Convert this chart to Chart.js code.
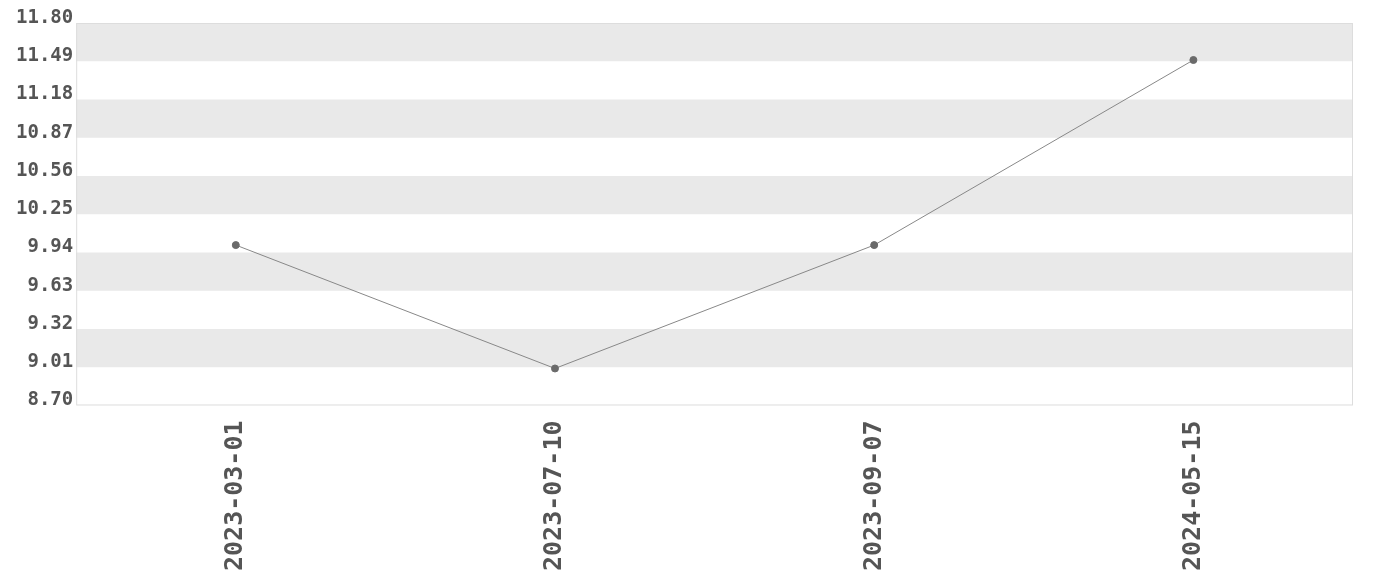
<!DOCTYPE html>
<html>
<head>
<meta charset="utf-8">
<script src="https://cdn.jsdelivr.net/npm/chart.js@4/dist/chart.umd.min.js"></script>
<style>
  body { margin: 0; background: #fff; }
</style>
</head>
<body>
<canvas id="grafica" width="1380" height="580"></canvas>
<script>
// datos
const fechas = ["2023-03-01", "2023-07-10", "2023-09-07", "2024-05-15"];
const valores = [10.0, 9.0, 10.0, 11.5];
const marcasY = [8.70, 9.01, 9.32, 9.63, 9.94, 10.25, 10.56, 10.87, 11.18, 11.49, 11.80];

// franjas grises entre marcas + borde del area
const franjas = {
  id: 'franjas',
  beforeDatasetsDraw(chart) {
    const ctx = chart.ctx;
    const a = chart.chartArea;
    const y = chart.scales.y;
    ctx.save();
    ctx.fillStyle = '#e9e9e9';
    for (let i = marcasY.length - 1; i > 0; i -= 2) {
      const y1 = y.getPixelForValue(marcasY[i]);
      const y2 = y.getPixelForValue(marcasY[i - 1]);
      ctx.fillRect(a.left, y1, a.right - a.left, y2 - y1);
    }
    ctx.strokeStyle = '#dddddd';
    ctx.lineWidth = 1;
    ctx.strokeRect(a.left + 0.5, a.top + 0.5, a.right - a.left - 1, a.bottom - a.top - 1);
    ctx.restore();
  }
};

new Chart(document.getElementById("grafica"), {
  type: 'line',
  data: {
    labels: fechas,
    datasets: [{
      data: valores,
      borderColor: "#888888",
      borderWidth: 1,
      pointBackgroundColor: "#6a6a6a",
      pointBorderColor: "#6a6a6a",
      pointRadius: 3.5,
      fill: false,
      tension: 0
    }]
  },
  plugins: [franjas],
  options: {
    responsive: false,
    animation: false,
    layout: {
      padding: { left: 13, right: 27, top: 23, bottom: -6 }
    },
    plugins: {
      legend: { display: false },
      title: { display: false },
      tooltip: { enabled: false }
    },
    scales: {
      x: {
        offset: true,
        grid: { display: false, drawTicks: false },
        border: { display: false },
        ticks: {
          minRotation: 90,
          maxRotation: 90,
          padding: 15,
          color: '#555555',
          font: { family: 'DejaVu Sans Mono', size: 25, weight: 'bold' }
        }
      },
      y: {
        min: 8.70,
        max: 11.80,
        grid: { display: false, drawTicks: false },
        border: { display: false },
        afterBuildTicks(scale) {
          scale.ticks = marcasY.map(v => ({ value: v }));
        },
        ticks: {
          padding: 3,
          labelOffset: -5,
          color: '#555555',
          font: { family: 'DejaVu Sans Mono', size: 19, weight: 'bold' },
          callback: v => Number(v).toFixed(2)
        }
      }
    }
  }
});
</script>
</body>
</html>
